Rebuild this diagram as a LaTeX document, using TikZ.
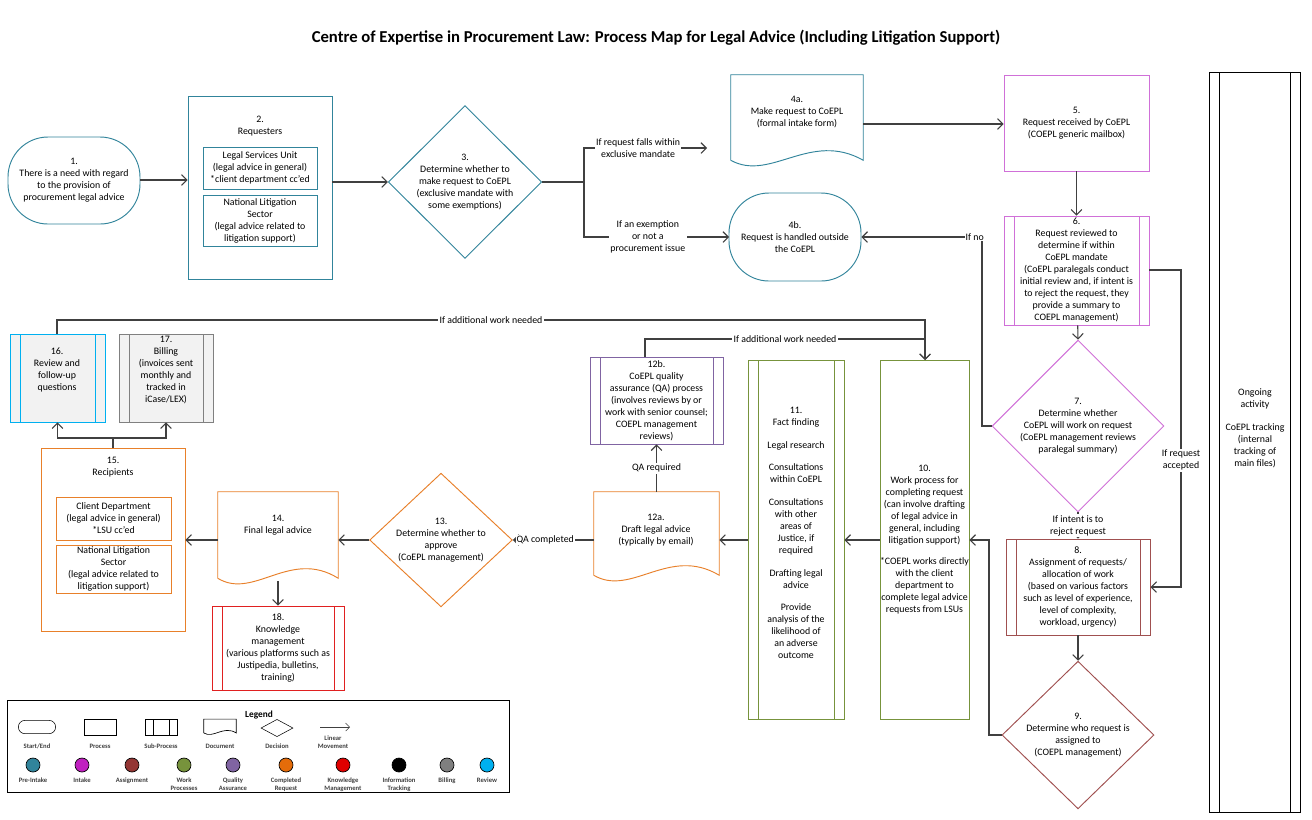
\documentclass[tikz,border=0pt]{standalone}
\usepackage{fontspec}
\setmainfont{Carlito}
\usetikzlibrary{fit,shapes.geometric,arrows.meta,calc}
\definecolor{cPre}{HTML}{31849B}
\definecolor{cInt}{HTML}{D070D8}
\definecolor{cAsg}{HTML}{A05050}
\definecolor{cWrk}{HTML}{77933C}
\definecolor{cQA}{HTML}{8064A2}
\definecolor{cCmp}{HTML}{E8802A}
\definecolor{cKM}{HTML}{E02020}
\definecolor{cBil}{HTML}{808080}
\definecolor{cRev}{HTML}{00B0F0}
\definecolor{cLine}{HTML}{404040}
\begin{document}
\begin{tikzpicture}[x=0.75pt,y=-0.75pt,
  every node/.style={font=\fontsize{7.4}{9}\selectfont, align=center},
  box/.style={draw=#1, inner sep=0pt, line width=0.7pt},
  term/.style={box=#1, rounded corners=30pt},
  subp/.style={box=#1, path picture={\draw[#1,line width=0.7pt]
     ([xshift=7.5pt]path picture bounding box.north west) -- ([xshift=7.5pt]path picture bounding box.south west)
     ([xshift=-7.5pt]path picture bounding box.north east) -- ([xshift=-7.5pt]path picture bounding box.south east);}},
  dec/.style={diamond, draw=#1, inner sep=0pt, line width=0.7pt},
  ln/.style={draw=cLine, line width=0.8pt},
  arr/.style={ln, -{Straight Barb[length=4pt,width=8pt]}},
  lbl/.style={fill=white, inner sep=1pt},
  lg/.style={font=\fontsize{5}{6}\selectfont\bfseries, text=black!75},
  dot/.style={circle, draw=black, line width=0.5pt, minimum size=10.5pt, inner sep=0pt, fill=#1}]
\useasboundingbox (0,0) rectangle (1312,819);
\fill[white] (0,0) rectangle (1312,819);
\newcommand\docpath[2]{\draw[draw=#2, line width=0.7pt] (#1.south west) -- (#1.north west) -- (#1.north east) -- (#1.south east)
  .. controls ($(#1.south west)!0.6!(#1.south east)+(0,-30)$) and ($(#1.south west)!0.3!(#1.south east)+(0,22)$) .. (#1.south west);}

\node[font=\fontsize{12.5}{14}\selectfont\bfseries] (title) at (656,38) {Centre of Expertise in Procurement Law: Process Map for Legal Advice (Including Litigation Support)};

% top row
\node[term=cPre, fit={(8,137) (140,224)}] (n1) {};
\node at (n1.center) {1.\\There is a need with regard\\to the provision of\\procurement legal advice};
\node[box=cPre, fit={(188,96) (332,279)}] (n2) {};
\node at (260,126) {2.\\Requesters};
\node[box=cPre, fit={(203,147) (317,189)}] (n2a) {};
\node at (n2a.center) {Legal Services Unit\\(legal advice in general)\\*client department cc'ed};
\node[box=cPre, fit={(203,195) (317,246)}] (n2b) {};
\node at (n2b.center) {National Litigation\\Sector\\(legal advice related to\\litigation support)};
\node[dec=cPre, minimum width=115pt, minimum height=91pt] (n3) at (465,182) {3.\\Determine whether to\\make request to CoEPL\\(exclusive mandate with\\some exemptions)};
\node[draw=none, inner sep=0pt, fit={(731,75) (863,160)}] (n4a) {};
\docpath{n4a}{cPre}
\node at (797,112) {4a.\\Make request to CoEPL\\(formal intake form)};
\node[term=cPre, fit={(729,193) (861,281)}] (n4b) {};
\node at (n4b.center) {4b.\\Request is handled outside\\the CoEPL};
\node[box=cInt, fit={(1004,75) (1149,171)}] (n5) {};
\node at (n5.center) {5.\\Request received by CoEPL\\(COEPL generic mailbox)};
\node[subp=cInt, fit={(1004,216) (1149,325)}] (n6) {};
\node at (n6.center) {6.\\Request reviewed to\\determine if within\\CoEPL mandate\\(CoEPL paralegals conduct\\initial review and, if intent is\\to reject the request, they\\provide a summary to\\COEPL management)};
\node[dec=cInt, minimum width=114pt, minimum height=86pt] (n7) at (1078,426) {7.\\Determine whether\\CoEPL will work on request\\(CoEPL management reviews\\paralegal summary)};
\node[subp=cAsg, fit={(1006,539) (1150,635)}] (n8) {};
\node at (n8.center) {8.\\Assignment of requests/\\allocation of work\\(based on various factors\\such as level of experience,\\level of complexity,\\workload, urgency)};
\node[dec=cAsg, minimum width=114pt, minimum height=88pt] (n9) at (1078,735) {9.\\Determine who request is\\assigned to\\(COEPL management)};
\node[subp=black, fit={(1209,72) (1300,812)}] (ong) {};
\node at (1255,428) {Ongoing\\activity\\[8pt]CoEPL tracking\\(internal\\tracking of\\main files)};

% middle row
\node[box=cWrk, fit={(880,360) (969,719)}] (n10) {};
\node at (n10.center) {10.\\Work process for\\completing request\\(can involve drafting\\of legal advice in\\general, including\\litigation support)\\[7pt]*COEPL works directly\\with the client\\department to\\complete legal advice\\requests from LSUs};
\node[subp=cWrk, fit={(748,360) (844,719)}] (n11) {};
\node at (796,533) {11.\\Fact finding\\[8pt]Legal research\\[8pt]Consultations\\within CoEPL\\[8pt]Consultations\\with other\\areas of\\Justice, if\\required\\[8pt]Drafting legal\\advice\\[8pt]Provide\\analysis of the\\likelihood of\\an adverse\\outcome};
\node[draw=none, inner sep=0pt, fit={(594,492) (719,575)}] (n12a) {};
\docpath{n12a}{cCmp}
\node at (656,530) {12a.\\Draft legal advice\\(typically by email)};
\node[subp=cQA, fit={(590,357) (723,444)}] (n12b) {};
\node at (n12b.center) {12b.\\CoEPL quality\\assurance (QA) process\\(involves reviews by or\\work with senior counsel;\\COEPL management\\reviews)};
\node[dec=cCmp, minimum width=107pt, minimum height=80pt] (n13) at (441,540) {13.\\Determine whether to\\approve\\(CoEPL management)};
\node[draw=none, inner sep=0pt, fit={(218,492) (338,578)}] (n14) {};
\docpath{n14}{cCmp}
\node at (278,525) {14.\\Final legal advice};
\node[subp=cKM, fit={(212,606) (344,690)}] (n18) {};
\node at (n18.center) {18.\\Knowledge\\management\\(various platforms such as\\Justipedia, bulletins,\\training)};
\node[box=cCmp, fit={(41,448) (185,631)}] (n15) {};
\node at (113,467) {15.\\Recipients};
\node[box=cCmp, fit={(56,497) (171,540)}] (n15a) {};
\node at (n15a.center) {Client Department\\(legal advice in general)\\*LSU cc'ed};
\node[box=cCmp, fit={(56,545) (171,593)}] (n15b) {};
\node at (n15b.center) {National Litigation\\Sector\\(legal advice related to\\litigation support)};
\node[subp=cRev, fill=black!5, fit={(10,334) (105,422)}] (n16) {};
\node at (57,370) {16.\\Review and\\follow-up\\questions};
\node[subp=cBil, fill=black!5, fit={(119,334) (213,422)}] (n17) {};
\node at (166,370) {17.\\Billing\\(invoices sent\\monthly and\\tracked in\\iCase/LEX)};

% coordinates
\coordinate (j3) at (584,182);
\coordinate (a4a) at (707,148);
\coordinate (a4b) at (729,237);
\coordinate (jno) at (982,426);
\coordinate (jacc) at (1181,270);
\coordinate (j9) at (989,735);
\coordinate (t10) at (925,360);
\coordinate (j12b) at (645,339);
\coordinate (j16) at (57,320);
\coordinate (j15) at (113,438);
\coordinate (k14) at (278,581);

% connectors
\draw[arr] (n1.east|-0,180) -- (n2.west|-0,180);
\draw[arr] (n2.east|-0,182) -- (n3.west);
\draw[ln] (n3.east) -- (j3);
\draw[arr] (j3) |- node[lbl,pos=0.72]{If request falls within\\exclusive mandate} (a4a);
\draw[arr] (j3) |- node[lbl,pos=0.72]{If an exemption\\or not a\\procurement issue} (a4b);
\draw[arr] (n4a.east|-0,124) -- (n5.west|-0,124);
\draw[arr] (n5) -- (n6);
\draw[arr] (n6) -- (n7.north);
\draw[arr] (n7.west) -- (jno) |- node[lbl,pos=0.53,inner sep=0.5pt]{If no} (n4b.east);
\draw[arr] (n6.east|-jacc) -- (jacc) |- node[lbl,pos=0.3]{If request\\accepted} (n8.east|-0,587);
\draw[arr] (n7.south) -- node[lbl]{If intent is to\\reject request} (n8.north);
\draw[arr] (n8) -- (n9.north);
\draw[arr] (n9.west) -- (j9) |- (n10.east|-0,540);
\draw[arr] (n10.west|-0,540) -- (n11.east|-0,540);
\draw[arr] (n11.west|-0,540) -- (n12a.east|-0,540);
\draw[arr] (n12a.north) -- node[lbl]{QA required} (n12b.south);
\draw[arr] (j12b|-n12b.north) -- (j12b) -- node[lbl]{If additional work needed} (j12b-|t10) -- (t10);
\draw[arr] (j16|-n16.north) -- (j16) -- node[lbl,pos=0.5]{If additional work needed} (j16-|t10) -- (t10);
\draw[arr] (n12a.west|-0,540) -- node[lbl,pos=0.6,inner sep=0.5pt]{QA completed} (n13.east);
\draw[arr] (n13.west) -- (n14.east|-0,540);
\draw[arr] (n14.west|-0,540) -- (n15.east|-0,540);
\draw[arr] (k14) -- (n18.north-|k14);
\draw[ln] (n15.north-|j15) -- (j15);
\draw[arr] (j15) -| (n16.south);
\draw[arr] (j15) -| (n17.south);

% legend
\node[draw=black, line width=0.6pt, inner sep=0pt, fit={(7,700) (509,792)}] (leg) {};
\node[font=\fontsize{7}{8}\selectfont\bfseries] at (259,715) {Legend};
\node[draw, rounded corners=5pt, minimum width=28pt, minimum height=10pt, inner sep=0pt] (ls1) at (37,727) {};
\node[draw, minimum width=24pt, minimum height=12pt, inner sep=0pt] (ls2) at (100,727) {};
\node[draw, minimum width=24pt, minimum height=12pt, inner sep=0pt, path picture={\draw ([xshift=6pt]path picture bounding box.north west) -- ([xshift=6pt]path picture bounding box.south west) ([xshift=-6pt]path picture bounding box.north east) -- ([xshift=-6pt]path picture bounding box.south east);}] (ls3) at (161,727) {};
\node[draw=none, minimum width=24pt, minimum height=10pt, inner sep=0pt] (ls4) at (220,726) {};
\draw[line width=0.5pt] (ls4.south west) -- (ls4.north west) -- (ls4.north east) -- (ls4.south east) .. controls ($(ls4.south west)!0.6!(ls4.south east)+(0,-8)$) and ($(ls4.south west)!0.3!(ls4.south east)+(0,6)$) .. (ls4.south west);
\node[diamond, draw, minimum width=24pt, minimum height=13pt, inner sep=0pt] (ls5) at (277,728) {};
\coordinate (la1) at (320,727); \coordinate (la2) at (350,727);
\draw[-{Straight Barb[length=3pt,width=6pt]}, draw=cLine] (la1) -- (la2);
\node[lg] at (37,746) {Start/End};
\node[lg] at (100,746) {Process};
\node[lg] at (161,746) {Sub-Process};
\node[lg] at (220,746) {Document};
\node[lg] at (277,746) {Decision};
\node[lg] at (333,742) {Linear\\Movement};
\foreach \x/\c/\t [count=\i] in {33/31849B/Pre-Intake, 82/C020C0/Intake, 132/943634/Assignment, 184/77933C/Work\\Processes, 233/8064A2/Quality\\Assurance, 286/E46C0A/Completed\\Request, 343/E00000/Knowledge\\Management, 399/000000/Information\\Tracking, 447/7F7F7F/Billing, 487/00B0F0/Review}{
  \definecolor{tmp}{HTML}{\c}
  \node[dot=tmp] (ld\i) at (\x,765) {};
  \node[lg, anchor=north] at (\x,773) {\t};
}
\end{tikzpicture}
\end{document}
